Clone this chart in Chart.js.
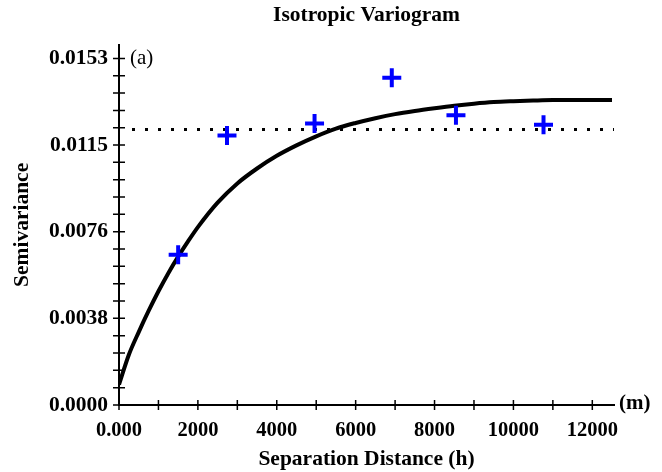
<!DOCTYPE html>
<html>
<head>
<meta charset="utf-8">
<script src="https://cdn.jsdelivr.net/npm/chart.js@4.4.1/dist/chart.umd.min.js"></script>
<style>
  body { margin: 0; background: #fff; }
  canvas { display: block; }
</style>
</head>
<body>
<canvas id="variogram" width="662" height="472"></canvas>
<script>
// experimental semivariance (blue crosses)
const lagDistance = [1500, 2738, 4958, 6916, 8543, 10763];
const lagSemivariance = [0.00663, 0.0119, 0.01243, 0.01445, 0.01279, 0.01237];

// fitted model curve
const modelDistance = [0, 250, 500, 750, 1000, 1250, 1500, 1750, 2000, 2500, 3000, 3500, 4000, 4500, 5000,
  5500, 6000, 6500, 7000, 7500, 8000, 8500, 9000, 9500, 10000, 10500, 11000, 11500, 12000, 12500];
const modelSemivariance = [0.0009, 0.00222, 0.00322, 0.00415, 0.00502, 0.00582, 0.00655, 0.00722, 0.00785,
  0.00893, 0.00978, 0.01044, 0.011, 0.01146, 0.01186, 0.0122, 0.01245, 0.01266, 0.01284, 0.01298, 0.0131,
  0.01321, 0.0133, 0.01337, 0.01341, 0.01344, 0.01346, 0.01346, 0.01346, 0.01346];

// dotted horizontal line (sill)
const sillLevel = 0.01216;
const sillRange = [330, 12550];

const xTickLabels = ["0.000", "2000", "4000", "6000", "8000", "10000", "12000"];
const yTickLabels = ["0.0000", "0.0038", "0.0076", "0.0115", "0.0153"];

const yMajorStep = 0.003825;
const yMinorPerMajor = 5;
const xMinorStep = 1000;

const serif = "'Liberation Serif', 'Times New Roman', serif";

// small tick marks that cross the axis lines, plus the (a) / (m) notes
const crossTicks = {
  id: "crossTicks",
  afterDraw(chart) {
    const { ctx, chartArea, scales } = chart;
    ctx.save();
    ctx.strokeStyle = "#000";
    ctx.lineWidth = 1.5;
    ctx.beginPath();
    scales.y.ticks.forEach((t) => {
      const py = scales.y.getPixelForValue(t.value);
      ctx.moveTo(chartArea.left - 6, py);
      ctx.lineTo(chartArea.left + 6, py);
    });
    scales.x.ticks.forEach((t) => {
      const px = scales.x.getPixelForValue(t.value);
      ctx.moveTo(px, chartArea.bottom - 5);
      ctx.lineTo(px, chartArea.bottom + 5);
    });
    ctx.stroke();

    ctx.fillStyle = "#000";
    ctx.textBaseline = "middle";
    ctx.textAlign = "left";
    ctx.font = "21px " + serif;
    ctx.fillText("(a)", chartArea.left + 11, scales.y.getPixelForValue(yMajorStep * 4));
    ctx.font = "bold 21px " + serif;
    ctx.fillText("(m)", chartArea.right + 5, chartArea.bottom - 1);
    ctx.restore();
  },
};

new Chart(document.getElementById("variogram"), {
  type: "scatter",
  data: {
    datasets: [
      {
        label: "Experimental",
        data: lagDistance.map((d, i) => ({ x: d, y: lagSemivariance[i] })),
        pointStyle: "cross",
        pointRadius: 9.5,
        pointHoverRadius: 9.5,
        borderColor: "#0000ff",
        backgroundColor: "#0000ff",
        borderWidth: 4,
        order: 0,
      },
      {
        label: "Model",
        type: "line",
        data: modelDistance.map((d, i) => ({ x: d, y: modelSemivariance[i] })),
        borderColor: "#000",
        borderWidth: 4,
        pointRadius: 0,
        cubicInterpolationMode: "monotone",
        fill: false,
        order: 1,
      },
      {
        label: "Sill",
        type: "line",
        data: sillRange.map((d) => ({ x: d, y: sillLevel })),
        borderColor: "#000",
        borderWidth: 3,
        borderDash: [3, 10],
        pointRadius: 0,
        fill: false,
        order: 2,
      },
    ],
  },
  options: {
    responsive: false,
    animation: false,
    layout: { padding: { left: 0, right: 48, top: 0, bottom: 0 } },
    plugins: {
      legend: { display: false },
      tooltip: { enabled: false },
      title: {
        display: true,
        text: "Isotropic Variogram",
        fullSize: false,
        color: "#000",
        font: { family: serif, size: 21.5, weight: "bold" },
        padding: { top: 3, bottom: 16 },
      },
    },
    scales: {
      x: {
        type: "linear",
        min: 0,
        max: 12550,
        afterFit: (s) => { s.height = 67; },
        afterBuildTicks: (s) => {
          s.ticks = [];
          for (let v = 0; v <= 12000; v += xMinorStep) s.ticks.push({ value: v });
        },
        grid: { display: false, drawTicks: false },
        border: { display: true, color: "#000", width: 2 },
        ticks: {
          autoSkip: false,
          maxRotation: 0,
          padding: 13,
          color: "#000",
          font: { family: serif, size: 20.5, weight: "bold" },
          callback: (v, i) => (i % 2 === 0 ? xTickLabels[i / 2] : ""),
        },
        title: {
          display: true,
          text: "Separation Distance (h)",
          color: "#000",
          font: { family: serif, size: 21.5, weight: "bold" },
          padding: { top: 0, bottom: 0 },
        },
      },
      y: {
        type: "linear",
        min: 0,
        max: 0.0159,
        afterFit: (s) => { s.width = 119; },
        afterBuildTicks: (s) => {
          s.ticks = [];
          for (let k = 0; k <= 4 * yMinorPerMajor; k++) s.ticks.push({ value: (yMajorStep / yMinorPerMajor) * k });
        },
        grid: { display: false, drawTicks: false },
        border: { display: true, color: "#000", width: 2 },
        ticks: {
          autoSkip: false,
          padding: 11,
          color: "#000",
          font: { family: serif, size: 21.5, weight: "bold" },
          callback: (v, i) => (i % yMinorPerMajor === 0 ? yTickLabels[i / yMinorPerMajor] : ""),
        },
        title: {
          display: true,
          text: "Semivariance",
          color: "#000",
          font: { family: serif, size: 21.5, weight: "bold" },
          padding: { top: 10, bottom: 0 },
        },
      },
    },
  },
  plugins: [crossTicks],
});
</script>
</body>
</html>
